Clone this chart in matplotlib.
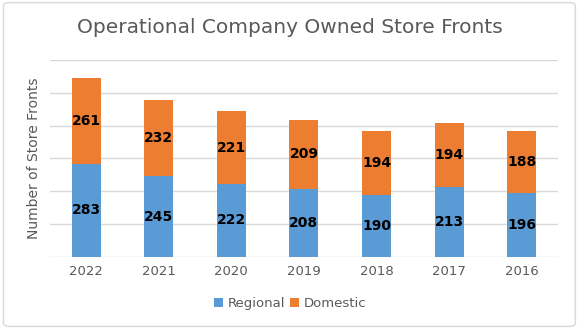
import numpy as np
import matplotlib.pyplot as plt
from matplotlib.patches import FancyBboxPatch

years = ['2022', '2021', '2020', '2019', '2018', '2017', '2016']
regional = [283, 245, 222, 208, 190, 213, 196]
domestic = [261, 232, 221, 209, 194, 194, 188]

blue = '#5B9BD5'
orange = '#ED7D31'
gray = '#595959'

fig = plt.figure(figsize=(5.8, 3.29), dpi=100)
ax = fig.add_axes([0.086, 0.219, 0.876, 0.599])

x = np.arange(len(years))
b1 = ax.bar(x, regional, width=0.4, color=blue, label='Regional', zorder=2)
b2 = ax.bar(x, domestic, width=0.4, bottom=regional, color=orange, label='Domestic', zorder=2)

ax.bar_label(b1, label_type='center', fontsize=10, fontweight='bold', color='black')
ax.bar_label(b2, label_type='center', fontsize=10, fontweight='bold', color='black')

ax.set_ylim(0, 600)
ax.set_xlim(-0.5, len(years) - 0.5)
ax.set_yticks(range(0, 601, 100))
ax.set_yticklabels([])
ax.tick_params(axis='y', length=0)
ax.tick_params(axis='x', length=0, colors=gray, labelsize=9.5, pad=6)
ax.set_xticks(x)
ax.set_xticklabels(years)
ax.grid(axis='y', color='#D9D9D9', linewidth=1, zorder=0)
for s in ax.spines.values():
    s.set_visible(False)

ax.set_ylabel('Number of Store Fronts', color=gray, fontsize=10, labelpad=3)

fig.text(0.5, 0.915, 'Operational Company Owned Store Fronts', ha='center', va='center',
         fontsize=14.5, color=gray)

fig.legend(handles=[b1, b2], loc='center', bbox_to_anchor=(0.5, 0.078), ncol=2,
           frameon=False, fontsize=9.5, labelcolor=gray, handlelength=0.7,
           handleheight=0.7, handletextpad=0.3, columnspacing=0.4)

border = FancyBboxPatch((0.006, 0.008), 0.986, 0.984, boxstyle='round,pad=0,rounding_size=0.01',
                        transform=fig.transFigure, fill=False, edgecolor='#D9D9D9', linewidth=1)
fig.patches.append(border)

fig.savefig('out.png', dpi=100)
